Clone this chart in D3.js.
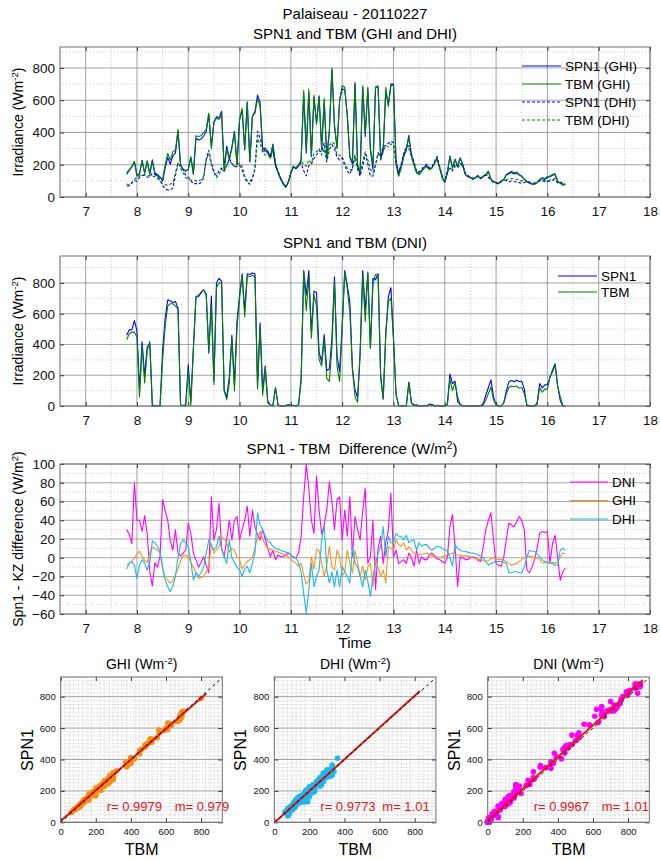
<!DOCTYPE html>
<html>
<head>
<meta charset="utf-8">
<script src="https://cdn.jsdelivr.net/npm/d3@7"></script>
<style>
body { margin: 0; background: #fff; }
svg { font-family: "Liberation Sans", Arial, Helvetica, sans-serif; }
</style>
</head>
<body>
<script>
// sample times, every 3 minutes from 7.80 h to 16.35 h
const hours = d3.range(172).map(i => 7.8 + i * 0.05)

const ghiTBM = [150, 170, 190, 220,
  130, 140, 225, 150, 225, 140, 220, 140, 130, 120, 110, 200, 270, 230, 280, 290, 420, 200, 170, 160,
  170, 250, 150, 380, 375, 380, 400, 420, 520, 300, 460, 490, 480, 510, 160, 300, 230, 300, 400, 200,
  480, 550, 300, 590, 220, 500, 520, 610, 560, 280, 290, 270, 240, 320, 200, 150, 110, 80, 60, 90,
  150, 190, 180, 200, 230, 660, 300, 670, 250, 630, 450, 620, 300, 610, 250, 400, 800, 450, 300, 600,
  690, 680, 500, 250, 220, 700, 200, 160, 690, 400, 680, 300, 200, 680, 690, 250, 300, 680, 560, 690,
  690, 200, 130, 180, 250, 290, 370, 250, 200, 150, 140, 160, 180, 190, 170, 180, 210, 240, 180, 120,
  90, 150, 250, 180, 230, 190, 240, 200, 140, 125, 120, 110, 120, 130, 115, 130, 140, 160, 110, 95,
  90, 85, 100, 110, 140, 150, 160, 150, 155, 140, 130, 110, 95, 85, 80, 80, 90, 110, 120, 115,
  125, 130, 140, 145, 100, 85, 75, 75]

const ghiSPN1 = [142, 164, 186, 220,
  134, 147, 227, 147, 220, 145, 231, 150, 138, 125, 98, 180, 246, 203, 256, 272, 408, 197, 172, 163,
  171, 245, 140, 364, 353, 359, 380, 405, 510, 315, 465, 498, 492, 532, 180, 316, 236, 310, 408, 201,
  478, 538, 292, 586, 218, 501, 530, 632, 588, 300, 304, 280, 249, 328, 207, 156, 115, 84, 63, 91,
  148, 186, 174, 191, 224, 642, 272, 645, 251, 618, 459, 628, 294, 590, 242, 412, 790, 437, 308, 601,
  670, 665, 508, 244, 204, 708, 195, 140, 681, 376, 670, 294, 169, 681, 680, 230, 287, 653, 572, 700,
  698, 219, 144, 192, 266, 298, 382, 258, 205, 154, 143, 164, 184, 195, 173, 182, 211, 241, 180, 121,
  92, 153, 254, 185, 234, 193, 243, 202, 142, 127, 121, 110, 119, 128, 113, 127, 136, 157, 109, 95,
  89, 83, 98, 107, 136, 144, 152, 143, 149, 136, 128, 110, 96, 87, 81, 80, 90, 108, 115, 109,
  121, 126, 135, 139, 96, 86, 80, 79]

const dhiTBM = [80, 75, 90, 110,
  120, 130, 135, 140, 135, 130, 130, 125, 115, 100, 80, 75, 75, 80, 85, 150, 210, 180, 150, 120,
  110, 105, 105, 100, 100, 105, 130, 230, 270, 200, 150, 120, 140, 170, 160, 200, 220, 210, 190, 200,
  210, 190, 130, 100, 95, 120, 170, 360, 330, 280, 260, 265, 240, 280, 190, 150, 110, 80, 60, 90,
  150, 190, 180, 200, 225, 200, 190, 230, 210, 270, 280, 300, 260, 300, 230, 320, 340, 330, 260, 260,
  250, 210, 180, 170, 170, 260, 180, 150, 220, 280, 230, 170, 150, 200, 270, 240, 280, 320, 310, 330,
  320, 200, 130, 180, 250, 290, 300, 250, 200, 150, 140, 160, 180, 190, 170, 180, 210, 240, 180, 120,
  90, 150, 180, 170, 190, 180, 200, 190, 140, 125, 120, 110, 120, 130, 115, 130, 140, 130, 110, 95,
  90, 85, 100, 105, 110, 110, 115, 110, 110, 105, 100, 100, 95, 85, 80, 80, 90, 100, 105, 100,
  100, 105, 110, 115, 95, 85, 75, 75]

const dhiSPN1 = [68, 69, 86, 102,
  98, 122, 133, 134, 122, 125, 148, 141, 127, 106, 70, 51, 44, 44, 55, 130, 210, 195, 169, 136,
  122, 101, 81, 84, 80, 89, 120, 235, 289, 212, 158, 132, 163, 180, 161, 194, 239, 210, 185, 190,
  197, 170, 118, 91, 79, 114, 175, 408, 365, 310, 283, 283, 256, 292, 200, 159, 118, 87, 66, 95,
  153, 191, 180, 195, 209, 162, 131, 196, 204, 239, 260, 287, 279, 335, 217, 293, 325, 299, 247, 229,
  241, 195, 160, 143, 182, 254, 170, 130, 189, 267, 205, 129, 130, 194, 275, 252, 313, 321, 333, 346,
  336, 226, 153, 203, 269, 314, 316, 268, 219, 158, 156, 172, 194, 204, 180, 188, 220, 252, 192, 130,
  98, 158, 180, 161, 204, 190, 208, 197, 147, 131, 125, 115, 124, 133, 117, 130, 136, 122, 104, 90,
  86, 81, 96, 100, 104, 94, 99, 95, 95, 89, 84, 90, 96, 93, 87, 87, 94, 101, 103, 96,
  95, 99, 104, 107, 87, 93, 85, 83]

const dniTBM = [430, 470, 480, 480,
  450, 60, 390, 150, 360, 420, 10, 0, 0, 0, 300, 520, 650, 665, 665, 650, 630, 5, 0, 0,
  230, 5, 370, 710, 720, 740, 755, 730, 360, 650, 140, 770, 800, 800, 100, 40, 150, 440, 100, 510,
  700, 850, 580, 845, 840, 850, 840, 110, 520, 70, 240, 20, 5, 0, 120, 5, 0, 0, 0, 5,
  0, 5, 0, 5, 160, 870, 620, 840, 440, 720, 650, 300, 260, 430, 180, 160, 380, 810, 260, 160,
  500, 870, 760, 610, 240, 60, 25, 330, 850, 550, 870, 375, 790, 855, 850, 180, 50, 460, 680, 700,
  440, 70, 5, 0, 0, 0, 150, 20, 10, 0, 0, 0, 5, 0, 10, 5, 0, 5, 0, 0,
  0, 10, 175, 100, 150, 60, 10, 0, 0, 0, 0, 0, 0, 0, 0, 5, 40, 80, 125, 40,
  10, 0, 0, 20, 80, 120, 130, 125, 130, 115, 120, 80, 10, 0, 0, 0, 10, 120, 90, 110,
  110, 190, 220, 265, 130, 60, 5, 0]

const dniSPN1 = [460, 495, 495, 555,
  490, 100, 418, 195, 385, 405, 0, 0, 0, 2, 362, 570, 690, 683, 673, 680, 635, 7, 5, 8,
  267, 31, 375, 708, 710, 735, 756, 722, 344, 715, 159, 800, 830, 810, 101, 59, 190, 459, 140, 554,
  719, 860, 620, 860, 855, 865, 860, 135, 539, 100, 260, 30, 6, 5, 118, 8, 1, 1, 3, 10,
  3, 5, 0, 10, 183, 880, 720, 880, 480, 746, 737, 351, 285, 465, 231, 241, 440, 840, 322, 225,
  519, 880, 783, 675, 241, 104, 55, 349, 880, 624, 864, 376, 830, 821, 860, 203, 44, 476, 710, 769,
  441, 78, 0, 0, 0, 0, 155, 20, 1, 8, 0, 1, 3, 0, 13, 10, 2, 4, 0, 0,
  0, 10, 208, 146, 162, 29, 11, 0, 0, 0, 0, 1, 0, 0, 0, 17, 70, 120, 170, 59,
  4, 0, 0, 21, 100, 157, 165, 158, 168, 159, 160, 110, 0, 0, 0, 0, 20, 146, 118, 137,
  138, 184, 235, 275, 131, 36, 0, 0]

// SPN1 - TBM differences
const diffDNI = [30, 25, 15, 80,
  40, 40, 28, 45, 25, -15, -30, -5, -10, 2, 62, 50, 40, 18, 8, 30, 5, 2, 5, 8,
  37, 26, 5, -2, -10, -5, 1, -8, -16, 65, 19, 30, 58, 10, 1, 19, 40, 19, 40, 44,
  19, 30, 40, 55, 23, 51, 33, 25, 19, 30, 20, 10, 1, 8, -2, 3, 1, 1, 3, 5,
  3, 0, 0, 5, 23, 65, 100, 73, 40, 26, 87, 51, 25, 35, 51, 81, 60, 30, 62, 65,
  19, 51, 23, 65, 1, 44, 30, 19, 50, 74, -6, 1, 40, -34, 10, 23, -6, 16, 30, 69,
  1, 8, -6, -4, -2, -6, 5, 0, -9, 8, -6, 1, -2, -2, 3, 5, 2, -1, -2, -4,
  -6, 0, 33, 46, 12, -31, 1, 0, -2, -2, 0, 1, 0, -3, -4, 12, 30, 40, 48, 19,
  -6, -8, -9, 1, 20, 37, 35, 33, 38, 44, 40, 30, -13, -16, -10, -2, 10, 26, 28, 27,
  28, -6, 15, 24, 1, -24, -15, -11]

const diffGHI = [-8, -6, -4, 0,
  4, 7, 2, -3, -5, 5, 11, 10, 8, 5, -12, -20, -24, -27, -24, -18, -12, -3, 2, 3,
  1, -5, -10, -16, -22, -21, -20, -15, -10, 15, 5, 8, 12, 22, 20, 16, 6, 10, 8, 1,
  -2, -12, -8, -4, -2, 1, 10, 22, 28, 20, 14, 10, 9, 8, 7, 6, 5, 4, 3, 1,
  -2, -4, -6, -9, -6, -18, -28, -25, 1, -12, 9, 8, -6, -20, -8, 12, -10, -13, 8, 1,
  -20, -15, 8, -6, -16, 8, -5, -20, -9, -24, -10, -6, -31, 1, -10, -20, -13, -27, 12, 10,
  8, 19, 14, 12, 16, 8, 12, 8, 5, 4, 3, 4, 4, 5, 3, 2, 1, 1, 0, 1,
  2, 3, 4, 5, 4, 3, 3, 2, 2, 2, 1, 0, -1, -2, -2, -3, -4, -3, -1, 0,
  -1, -2, -2, -3, -4, -6, -8, -7, -6, -4, -2, 0, 1, 2, 1, 0, 0, -2, -5, -6,
  -4, -4, -5, -6, -4, 1, 5, 4]

const diffDHI = [-12, -6, -4, -8,
  -22, -8, -2, -6, -13, -5, 18, 16, 12, 6, -10, -24, -31, -36, -30, -20, 0, 15, 19, 16,
  12, -4, -24, -16, -20, -16, -10, 5, 19, 12, 8, 12, 23, 10, 1, -6, 19, 0, -5, -10,
  -13, -20, -12, -9, -16, -6, 5, 48, 35, 30, 23, 18, 16, 12, 10, 9, 8, 7, 6, 5,
  3, 1, 0, -5, -16, -38, -59, -34, -6, -31, -20, -13, 19, 35, -13, -27, -15, -31, -13, -31,
  -9, -15, -20, -27, 12, -6, -10, -20, -31, -13, -25, -41, -20, -6, 5, 12, 33, 1, 23, 16,
  16, 26, 23, 23, 19, 24, 16, 18, 19, 8, 16, 12, 14, 14, 10, 8, 10, 12, 12, 10,
  8, 8, 0, -9, 14, 10, 8, 7, 7, 6, 5, 5, 4, 3, 2, 0, -4, -8, -6, -5,
  -4, -4, -4, -5, -6, -16, -16, -15, -15, -16, -16, -10, 1, 8, 7, 7, 4, 1, -2, -4,
  -5, -6, -6, -8, -8, 8, 10, 8]

// regression results printed on the scatter plots
const scatterNames = ['GHI', 'DHI', 'DNI']
const rValues = [0.9979, 0.9773, 0.9967]
const mValues = [0.979, 1.01, 1.01]
const fitIntercepts = [8, -3, 12]
const fitEnds = [830, 830, 885]

const m = { width: 661, height: 861 }

const svg = d3.select('body').append('svg')
    .attr('width', m.width)
    .attr('height', m.height)

const cBlue = '#0000ff', cGreen = '#008000'
const cMag = '#ff00ff', cOrange = '#f7941d', cCyan = '#1cb8ec'

const x = d3.scaleLinear().domain([6.5, 18]).range([60, 650])
const xMajor = d3.range(7, 19)
const xMinor = d3.range(6.5, 18, 1)

function grid(g, xs, ys, xMaj, xMin, yMaj, yMin) {
    const [x0, x1] = xs.range(), [y0, y1] = ys.range()
    const minor = g.append('g').attr('stroke', '#c4c4c4').attr('stroke-width', 0.8).attr('stroke-dasharray', '1.2,1.8')
    minor.selectAll('.vx').data(xMin).enter().append('line')
        .attr('x1', d => xs(d)).attr('x2', d => xs(d)).attr('y1', y0).attr('y2', y1)
    minor.selectAll('.hy').data(yMin).enter().append('line')
        .attr('y1', d => ys(d)).attr('y2', d => ys(d)).attr('x1', x0).attr('x2', x1)
    const major = g.append('g').attr('stroke', '#8c8c8c').attr('stroke-width', 0.8)
    major.selectAll('.vx').data(xMaj).enter().append('line')
        .attr('x1', d => xs(d)).attr('x2', d => xs(d)).attr('y1', y0).attr('y2', y1)
    major.selectAll('.hy').data(yMaj).enter().append('line')
        .attr('y1', d => ys(d)).attr('y2', d => ys(d)).attr('x1', x0).attr('x2', x1)
}

function axes(g, xs, ys, xTicks, yTicks, fs, pad) {
    const [x0, x1] = xs.range(), [y0, y1] = ys.range()
    const style = sel => {
        sel.select('.domain').remove()
        sel.attr('font-family', null).attr('font-size', fs)
        sel.selectAll('line').attr('stroke', '#333')
        sel.selectAll('text').attr('fill', '#111')
    }
    g.append('g').attr('transform', `translate(0,${y0})`)
        .call(d3.axisBottom(xs).tickValues(xTicks).tickSize(-4).tickPadding(pad).tickFormat(d3.format('d'))).call(style)
    g.append('g').attr('transform', `translate(0,${y1})`)
        .call(d3.axisTop(xs).tickValues(xTicks).tickSize(-4).tickFormat('')).call(style)
    g.append('g').attr('transform', `translate(${x0},0)`)
        .call(d3.axisLeft(ys).tickValues(yTicks).tickSize(-4).tickPadding(5).tickFormat(d3.format('d'))).call(style)
    g.append('g').attr('transform', `translate(${x1},0)`)
        .call(d3.axisRight(ys).tickValues(yTicks).tickSize(-4).tickFormat('')).call(style)
    g.append('rect').attr('x', x0).attr('y', y1).attr('width', x1 - x0).attr('height', y0 - y1)
        .attr('fill', 'none').attr('stroke', '#6e6e6e').attr('stroke-width', 1)
}

function supText(g, parts, attrs) {
    const t = g.append('text').attr('text-anchor', 'middle').style('white-space', 'pre')
    Object.entries(attrs).forEach(([k, v]) => t.attr(k, v))
    t.append('tspan').text(parts[0])
    t.append('tspan').attr('baseline-shift', 'super').attr('font-size', '0.68em').text(parts[1])
    t.append('tspan').text(parts[2])
    return t
}

function series(g, ys, values, color, dash) {
    const line = d3.line().x((d, i) => x(hours[i])).y(d => ys(d))
    g.append('path').datum(values)
        .attr('d', line)
        .attr('fill', 'none')
        .attr('stroke', color)
        .attr('stroke-width', 1.1)
        .attr('stroke-linejoin', 'round')
        .attr('stroke-dasharray', dash || null)
}

function legend(g, items, lx0, lx1, ty, dy) {
    items.forEach((it, i) => {
        const yy = ty + i * dy
        g.append('line').attr('x1', lx0).attr('x2', lx1).attr('y1', yy).attr('y2', yy)
            .attr('stroke', it.color).attr('stroke-width', 1.2).attr('stroke-dasharray', it.dash || null)
        g.append('text').attr('x', lx1 + 4).attr('y', yy + 4.5).attr('font-size', 13.5).text(it.label)
    })
}

// ---- panel 1: GHI and DHI
const y1 = d3.scaleLinear().domain([0, 930]).range([197, 47])
const g1 = svg.append('g')
grid(g1, x, y1, xMajor, xMinor, d3.range(0, 801, 200), d3.range(100, 901, 200))
series(g1, y1, ghiSPN1, cBlue)
series(g1, y1, ghiTBM, cGreen)
series(g1, y1, dhiSPN1, cBlue, '3,2')
series(g1, y1, dhiTBM, cGreen, '3,2')
axes(g1, x, y1, xMajor, d3.range(0, 801, 200), 13.5, 9)
legend(g1, [
    { label: 'SPN1 (GHI)', color: cBlue },
    { label: 'TBM (GHI)', color: cGreen },
    { label: 'SPN1 (DHI)', color: cBlue, dash: '3,2' },
    { label: 'TBM (DHI)', color: cGreen, dash: '3,2' }
], 522, 561, 66, 18)
svg.append('text').attr('x', 355).attr('y', 19).attr('text-anchor', 'middle').attr('font-size', 15).text('Palaiseau - 20110227')
svg.append('text').attr('x', 355).attr('y', 39).attr('text-anchor', 'middle').attr('font-size', 15).text('SPN1 and TBM (GHI and DHI)')
supText(svg, ['Irradiance (Wm', '-2', ')'], { transform: 'translate(23,122) rotate(-90)', 'font-size': 14 })

// ---- panel 2: DNI
const y2 = d3.scaleLinear().domain([0, 975]).range([406, 256])
const g2 = svg.append('g')
grid(g2, x, y2, xMajor, xMinor, d3.range(0, 801, 200), d3.range(100, 901, 200))
series(g2, y2, dniSPN1, cBlue)
series(g2, y2, dniTBM, cGreen)
axes(g2, x, y2, xMajor, d3.range(0, 801, 200), 13.5, 9)
legend(g2, [
    { label: 'SPN1', color: cBlue },
    { label: 'TBM', color: cGreen }
], 558, 597, 276, 16)
svg.append('text').attr('x', 355).attr('y', 248).attr('text-anchor', 'middle').attr('font-size', 15).text('SPN1 and TBM (DNI)')
supText(svg, ['Irradiance (Wm', '-2', ')'], { transform: 'translate(23,331) rotate(-90)', 'font-size': 14 })

// ---- panel 3: differences
const y3 = d3.scaleLinear().domain([-60, 100]).range([614, 464])
const g3 = svg.append('g')
grid(g3, x, y3, xMajor, xMinor, d3.range(-60, 101, 20), d3.range(-50, 100, 20))
series(g3, y3, diffDNI, cMag)
series(g3, y3, diffGHI, cOrange)
series(g3, y3, diffDHI, cCyan)
axes(g3, x, y3, xMajor, d3.range(-60, 101, 20), 13.5, 9)
legend(g3, [
    { label: 'DNI', color: cMag },
    { label: 'GHI', color: cOrange },
    { label: 'DHI', color: cCyan }
], 570, 608, 482, 18.5)
supText(svg, ['SPN1 - TBM  Difference (W/m', '2', ')'], { x: 352, y: 454, 'font-size': 15 })
supText(svg, ['Spn1 - KZ difference (W/m', '2', ')'], { transform: 'translate(23,539) rotate(-90)', 'font-size': 14 })
svg.append('text').attr('x', 355).attr('y', 648).attr('text-anchor', 'middle').attr('font-size', 15).text('Time')

// ---- scatter plots SPN1 vs TBM
const scatterData = [
    { tbm: ghiTBM, spn: ghiSPN1, color: '#f5900f', left: 60.7, mDx: 114 },
    { tbm: dhiTBM, spn: dhiSPN1, color: '#1cb8ec', left: 274.3, mDx: 108 },
    { tbm: dniTBM, spn: dniSPN1, color: '#ff00ff', left: 487.7, mDx: 114 }
]
const sTicks = d3.range(0, 801, 200)
const sMinor = d3.range(25, 925, 25).filter(d => d % 200 !== 0)

scatterData.forEach(function(s, k) {
    const sx = d3.scaleLinear().domain([0, 921]).range([s.left, s.left + 161.6])
    const sy = d3.scaleLinear().domain([0, 925]).range([822.3, 677])
    const g = svg.append('g')
    grid(g, sx, sy, [], sMinor, sTicks, sMinor)

    g.selectAll('.dot')
        .data(s.tbm)
        .enter()
        .append('circle')
            .attr('cx', d => sx(d))
            .attr('cy', (d, i) => sy(s.spn[i]))
            .attr('r', 2.8)
            .attr('fill', s.color)

    g.append('line')
        .attr('x1', sx(0)).attr('y1', sy(fitIntercepts[k]))
        .attr('x2', sx(fitEnds[k])).attr('y2', sy(mValues[k] * fitEnds[k] + fitIntercepts[k]))
        .attr('stroke', '#e8141c').attr('stroke-width', 2)
    g.append('line')
        .attr('x1', sx(0)).attr('y1', sy(0))
        .attr('x2', sx(921)).attr('y2', sy(921))
        .attr('stroke', '#111').attr('stroke-width', 1).attr('stroke-dasharray', '3,3')

    axes(g, sx, sy, sTicks, sTicks, 9.5, 6)

    g.append('text').attr('x', s.left + 46).attr('y', 811).attr('font-size', 13).attr('fill', '#e8141c')
        .text('r= ' + rValues[k])
    g.append('text').attr('x', s.left + s.mDx).attr('y', 811).attr('font-size', 13).attr('fill', '#e8141c')
        .text('m= ' + mValues[k])

    supText(g, [scatterNames[k] + ' (Wm', '-2', ')'], { x: s.left + 81, y: 669, 'font-size': 14 })
    g.append('text').attr('x', s.left + 81).attr('y', 855).attr('text-anchor', 'middle').attr('font-size', 16).text('TBM')
    g.append('text').attr('transform', `translate(${s.left - 28},750) rotate(-90)`)
        .attr('text-anchor', 'middle').attr('font-size', 16).text('SPN1')
})
</script>
</body>
</html>
